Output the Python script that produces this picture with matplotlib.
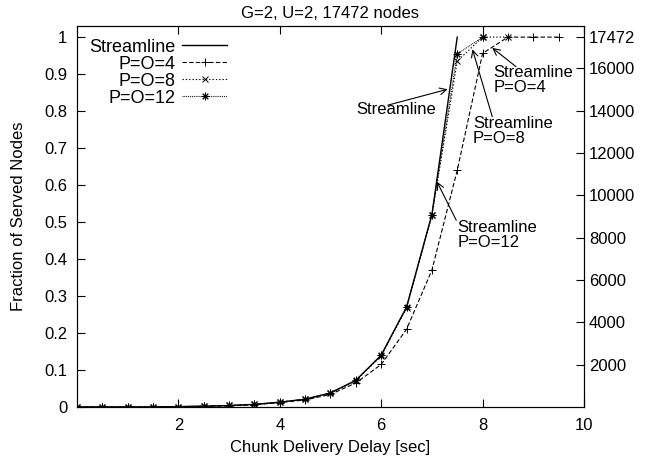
import matplotlib
matplotlib.use('Agg')
import matplotlib.pyplot as plt

plt.rcParams['font.family'] = ['Liberation Sans', 'DejaVu Sans']
plt.rcParams['font.size'] = 12

# delay [sec] and fraction of served nodes
delay = [0, 0.5, 1, 1.5, 2, 2.5, 3, 3.5, 4, 4.5, 5, 5.5, 6, 6.5, 7, 7.5, 8, 8.5, 9, 9.5]
total_nodes = 17472

streamline_x = [0, 0.5, 1, 1.5, 2, 2.5, 3, 3.5, 4, 4.5, 5, 5.5, 6, 6.5, 7, 7.5]
streamline = [0, 0, 0, 0, 0.001, 0.002, 0.004, 0.007, 0.013, 0.021, 0.038, 0.072, 0.14, 0.27, 0.52, 1.0]

po4 = [0, 0, 0, 0, 0.001, 0.002, 0.003, 0.006, 0.012, 0.019, 0.034, 0.065, 0.115, 0.21, 0.37, 0.64, 0.956, 1.0, 1.0, 1.0]
po8 = [0, 0, 0, 0, 0.001, 0.002, 0.004, 0.007, 0.013, 0.021, 0.038, 0.071, 0.138, 0.268, 0.518, 0.935, 1.0, 1.0]
po12 = [0, 0, 0, 0, 0.001, 0.002, 0.004, 0.007, 0.013, 0.021, 0.038, 0.072, 0.14, 0.27, 0.52, 0.954, 1.0]

# arrows: (text, text x, text y, tail x, tail y, head x, head y)
notes = [
    ('Streamline', 5.51, 0.803, 6.13, 0.816, 7.31, 0.859),
    ('Streamline\nP=O=4', 8.22, 0.925, 8.66, 0.920, 8.19, 0.971),
    ('Streamline\nP=O=8', 7.81, 0.786, 8.19, 0.785, 7.80, 0.967),
    ('Streamline\nP=O=12', 7.51, 0.505, 7.48, 0.505, 7.10, 0.609),
]

fig = plt.figure(figsize=(6.59, 4.58), dpi=100)
ax = fig.add_axes([0.1168, 0.1114, 0.7694, 0.8318])

star = (8, 2, 0)
ax.plot(streamline_x, streamline, color='black', lw=1.0, label='Streamline')
ax.plot(delay, po4, color='black', lw=0.8, dashes=(4, 2), marker='+', ms=6, mew=0.7, label='P=O=4')
ax.plot(delay[:len(po8)], po8, color='black', lw=0.8, dashes=(1.2, 1.8), marker='x', ms=4.5, mew=0.7, label='P=O=8')
ax.plot(delay[:len(po12)], po12, color='black', lw=0.8, dashes=(0.8, 0.9), marker=star, ms=5.5, mew=0.7, label='P=O=12')

ax.set_xlim(0, 10)
ax.set_ylim(0, 1.03)
ax.set_xticks([2, 4, 6, 8, 10])
ax.set_yticks([0, 0.1, 0.2, 0.3, 0.4, 0.5, 0.6, 0.7, 0.8, 0.9, 1])
ax.set_yticklabels(['0', '0.1', '0.2', '0.3', '0.4', '0.5', '0.6', '0.7', '0.8', '0.9', '1'])
ax.tick_params(direction='in', length=6, top=True, width=0.8)
ax.tick_params(axis='x', pad=8)
ax.tick_params(axis='y', pad=7)
ax.set_xlabel('Chunk Delivery Delay [sec]', labelpad=5)
ax.set_ylabel('Fraction of Served Nodes', labelpad=13)
ax.set_title('G=2, U=2, 17472 nodes', fontsize=12, pad=6)

ax2 = ax.twinx()
ax2.set_ylim(0, total_nodes * 1.03)
ax2.set_yticks([2000, 4000, 6000, 8000, 10000, 12000, 14000, 16000, total_nodes])
ax2.tick_params(direction='in', length=6, width=0.8)

for text, tx, ty, x0, y0, x1, y1 in notes:
    va = 'center' if '\n' not in text else 'top'
    ax.text(tx, ty, text, ha='left', va=va, linespacing=1.0, fontsize=12)
    ax.annotate('', xy=(x1, y1), xytext=(x0, y0),
                arrowprops=dict(arrowstyle='->', color='black', lw=0.8, shrinkA=0, shrinkB=0))

ax.legend(loc='upper left', bbox_to_anchor=(0.0, 1.0), frameon=False, markerfirst=False,
          handlelength=2.5, labelspacing=0.0, borderaxespad=0.3, fontsize=13, handletextpad=0.35)

fig.savefig('out.png', dpi=100)
